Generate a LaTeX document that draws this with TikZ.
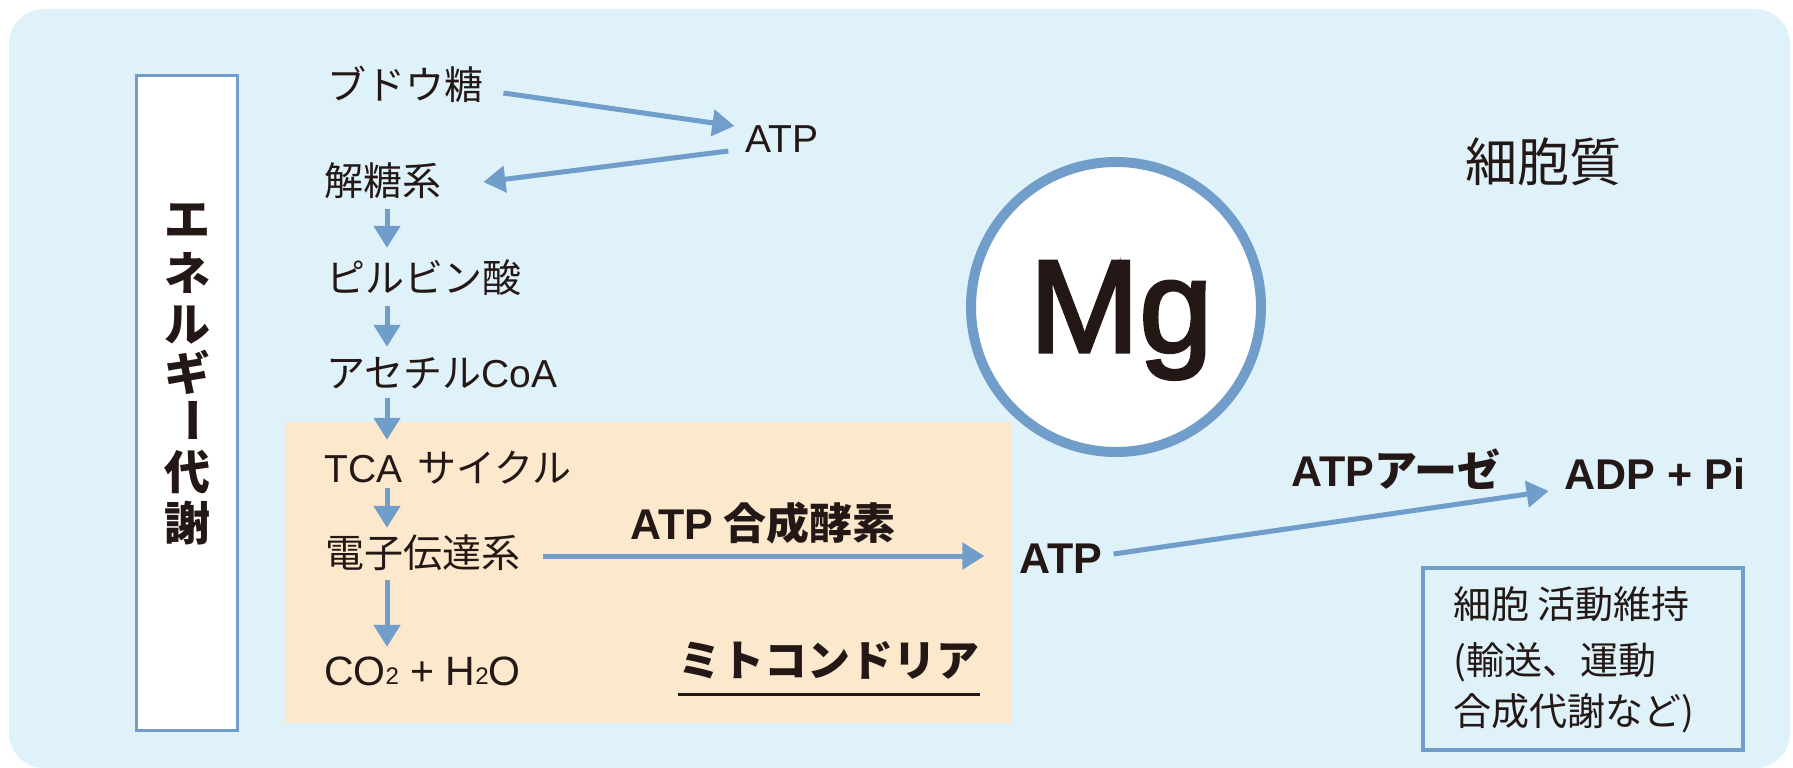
\documentclass[tikz,border=0pt]{standalone}
\usepackage{fontspec}
\usetikzlibrary{arrows.meta,calc}
\newfontfamily\jpf{Noto Sans CJK JP}
\newfontfamily\hvf{Liberation Sans}
\newfontfamily\mgf[BoldFont={Liberation Sans}, BoldFeatures={FakeBold=2.5}]{Liberation Sans}
\definecolor{bgblue}{RGB}{223,241,249}
\definecolor{lineblue}{RGB}{112,157,201}
\definecolor{peach}{RGB}{252,232,204}
\definecolor{ink}{RGB}{35,24,21}
\newcommand{\lowtwo}{\raisebox{1pt}{\fontsize{24}{24}\selectfont 2}}
\begin{document}
\begin{tikzpicture}[x=1pt,y=-1pt,
  t/.style={inner sep=0pt, text=ink, text height=32pt, text depth=3pt, font=\jpf\fontsize{39}{39}\selectfont},
  tb/.style={inner sep=0pt, text=ink, text height=35pt, text depth=3pt, font=\jpf\bfseries\fontsize{43}{43}\selectfont},
  vt/.style={inner sep=0pt, text=ink, font=\jpf\bfseries\fontsize{46}{46}\selectfont},
  arr/.style={draw=lineblue, line width=5pt, -{Triangle[length=22pt,width=26pt]}},
]
\useasboundingbox (0,0) rectangle (1793,768);
\fill[bgblue, rounded corners=35pt] (9,9) rectangle (1790,768);

% mitochondria area
\node[fill=peach, minimum width=727pt, minimum height=301pt, inner sep=0pt] (mitobox) at (648.5,572.5) {};

% left box
\node[draw=lineblue, line width=2.5pt, fill=white, minimum width=101pt, minimum height=655pt, inner sep=0pt] (ebox) at (187,403) {};
\foreach \c/\yy [count=\i] in {エ/220, ネ/273, ル/325, ギ/372, 代/472, 謝/523}
  \node[vt] (v\i) at (187,\yy) {\c};
\node[vt, rotate=-90] (vbar) at (187,420) {ー};

% Mg circle
\node[circle, fill=white, draw=lineblue, line width=10pt, minimum size=290pt, inner sep=0pt] (mgc) at (1116,307) {};
\node[anchor=base, inner sep=0pt, text=ink, font=\mgf\bfseries\fontsize{132}{132}\selectfont] (mg) at (1121,352) {Mg};

% pathway labels
\node[t, anchor=west] (budo) at (327,85) {ブドウ糖};
\node[t, anchor=west] (kaito) at (324,181) {解糖系};
\node[t, anchor=west] (piru) at (326,278) {ピルビン酸};
\node[t, anchor=west] (ase) at (326,373) {アセチル{\hvf CoA}};
\node[t, anchor=west] (tca) at (324,468) {{\hvf TCA}\, サイクル};
\node[t, anchor=west] (den) at (325,553) {電子伝達系};
\node[t, anchor=west] (co2) at (324,671) {{\hvf\fontsize{41}{41}\selectfont CO\lowtwo{} + H\lowtwo O}};
\node[t] (atp1) at (782,138) {\hvf ATP};

\node[tb] (gosei) at (763,523) {{\hvf ATP} 合成酵素};
\node[tb] (mito) at (829,660) {ミトコンドリア};
\draw[ink, line width=3pt] ($(mito.south west)+(0,15)$) -- ($(mito.south east)+(0,15)$);
\node[tb] (atp2) at (1061,557) {\hvf ATP};
\node[tb] (atpase) at (1396,470) {{\hvf ATP}アーゼ};
\node[tb] (adp) at (1655,473) {\hvf ADP + Pi};

\node[t, font=\jpf\fontsize{52}{52}\selectfont, text height=44pt, text depth=4pt] (cyto) at (1543,161) {細胞質};

% activity box
\node[draw=lineblue, line width=4pt, minimum width=320pt, minimum height=182pt, inner sep=0pt] (actbox) at (1583,659) {};
\node[t, anchor=west, font=\jpf\fontsize{38}{38}\selectfont] (a1) at (1453,604) {細胞 活動維持};
\node[t, anchor=west, font=\jpf\fontsize{38}{38}\selectfont] (a2) at (1453,660) {(輸送、運動};
\node[t, anchor=west, font=\jpf\fontsize{38}{38}\selectfont] (a3) at (1453,711) {合成代謝など)};

% arrows
\coordinate (ax) at (387,0);
\draw[arr] ($(budo.east)+(20,8)$) -- ($(atp1.west)+(-11,-12)$);
\draw[arr] ($(atp1.west)+(-17,13)$) -- ($(kaito.east)+(42,1)$);
\draw[arr] ($(ax |- kaito.south)+(0,10)$) -- ($(ax |- piru.north)+(0,-12.5)$);
\draw[arr] ($(ax |- piru.south)+(0,10.5)$) -- ($(ax |- ase.north)+(0,-8.5)$);
\draw[arr] ($(ax |- ase.south)+(0,7.5)$) -- ($(ax |- tca.north)+(0,-10.5)$);
\draw[arr] ($(ax |- tca.south)+(0,2.5)$) -- ($(ax |- den.north)+(0,-7.5)$);
\draw[arr] ($(ax |- den.south)+(0,9.5)$) -- ($(ax |- co2.north)+(0,-6.5)$);
\draw[arr] ($(den.east)+(23,3)$) -- ($(atp2.west)+(-35,-1)$);
\draw[arr] ($(atp2.east)+(11,-3)$) -- ($(adp.west)+(-16,18)$);
\end{tikzpicture}
\end{document}
